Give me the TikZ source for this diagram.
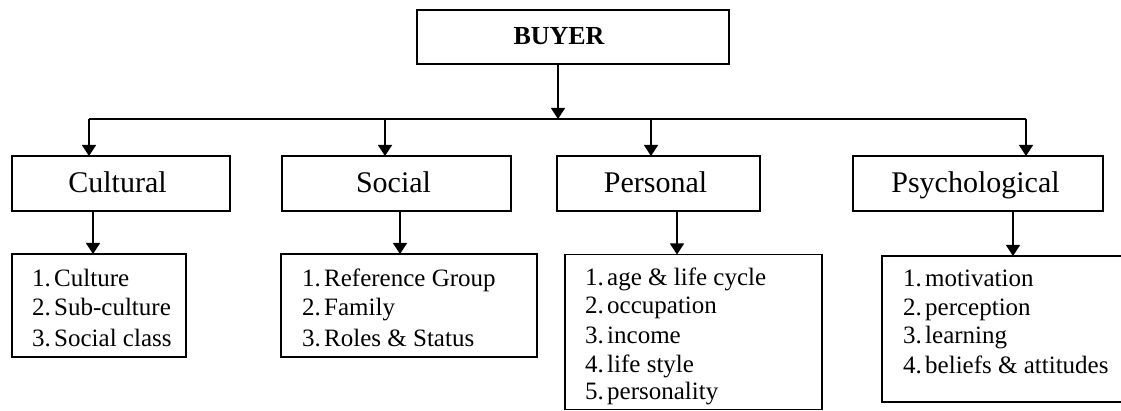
\documentclass[tikz,border=0pt]{standalone}
\usepackage{fontspec}
\setmainfont{Liberation Serif}
\usetikzlibrary{arrows.meta}
\tikzset{
  box/.style={draw, line width=1.4pt, inner sep=0pt, outer sep=0pt},
  arr/.style={line width=1.3pt, -{Triangle[width=14pt,length=11pt]}},
  conn/.style={line width=1.3pt},
  lvl/.style={font=\fontsize{30}{30}\selectfont, anchor=base, inner sep=0pt},
  item/.style={font=\fontsize{25}{29}\selectfont, anchor=base west, inner sep=0pt},
  head/.style={font=\fontsize{26}{26}\selectfont\bfseries, anchor=base, inner sep=0pt}
}
\newcommand{\itemnum}[1]{\makebox[22pt][l]{#1}}
\begin{document}
\begin{tikzpicture}[x=1pt,y=-1pt]
\useasboundingbox (0,0) rectangle (1121,411);
\clip (0,0) rectangle (1121,411);

% top
\node[box, line width=1.8pt, minimum width=312pt, minimum height=54pt] (buyer) at (573,37) {};
\node[head] (buyerT) at (559,45) {BUYER};

% level 2 boxes
\node[box, minimum width=218pt, minimum height=55pt] (cult) at (121,183.5) {};
\node[box, minimum width=229pt, minimum height=55pt] (soc) at (396.5,183.5) {};
\node[box, minimum width=203pt, minimum height=55pt] (pers) at (658.5,183.5) {};
\node[box, minimum width=250pt, minimum height=55pt] (psy) at (978,183.5) {};
\node[lvl] (cultT) at (117.5,193) {Cultural};
\node[lvl] (socT) at (393.5,193) {Social};
\node[lvl] (persT) at (655.5,193) {Personal};
\node[lvl] (psyT) at (975.5,193) {Psychological};

% list boxes
\node[box, minimum width=174pt, minimum height=103pt] (cultL) at (99,305.5) {};
\node[box, minimum width=256pt, minimum height=103pt] (socL) at (409,305.5) {};
\node[box, minimum width=257pt, minimum height=155pt] (persL) at (693.5,332) {};
\node[box, minimum width=270pt, minimum height=146pt] (psyL) at (1017,329) {};

% list texts
\node[item] (c1) at (32,287) {\itemnum{1.}Culture};
\node[item] (c2) at (32,316) {\itemnum{2.}Sub-culture};
\node[item] (c3) at (32,346) {\itemnum{3.}Social class};

\node[item] (s1) at (302,287) {\itemnum{1.}Reference Group};
\node[item] (s2) at (302,316) {\itemnum{2.}Family};
\node[item] (s3) at (302,346) {\itemnum{3.}Roles \& Status};

\node[item] (p1) at (585,286) {\itemnum{1.}age \& life cycle};
\node[item] (p2) at (585,314) {\itemnum{2.}occupation};
\node[item] (p3) at (585,343) {\itemnum{3.}income};
\node[item] (p4) at (585,372) {\itemnum{4.}life style};
\node[item] (p5) at (585,399) {\itemnum{5.}personality};

\node[item] (y1) at (903,287) {\itemnum{1.}motivation};
\node[item] (y2) at (903,316) {\itemnum{2.}perception};
\node[item] (y3) at (903,344) {\itemnum{3.}learning};
\node[item] (y4) at (903,373) {\itemnum{4.}beliefs \& attitudes};

% connectors
\coordinate (hub) at (558,119);
\coordinate (hl) at (89,119);
\coordinate (hs) at (385,119);
\coordinate (hp) at (651,119);
\coordinate (hr) at (1026,119);
\draw[arr] (buyer.south -| hub) -- (hub);
\draw[conn] (hl) -- (hr);
\draw[arr] (hl) -- (cult.north -| hl);
\draw[arr] (hs) -- (soc.north -| hs);
\draw[arr] (hp) -- (pers.north -| hp);
\draw[arr] (hr) -- (psy.north -| hr);

\coordinate (dc) at (93,0);
\coordinate (ds) at (400,0);
\coordinate (dp) at (677,0);
\coordinate (dy) at (1013,0);
\draw[arr] (cult.south -| dc) -- (cultL.north -| dc);
\draw[arr] (soc.south -| ds) -- (socL.north -| ds);
\draw[arr] (pers.south -| dp) -- (persL.north -| dp);
\draw[arr] (psy.south -| dy) -- (psyL.north -| dy);
\end{tikzpicture}
\end{document}
